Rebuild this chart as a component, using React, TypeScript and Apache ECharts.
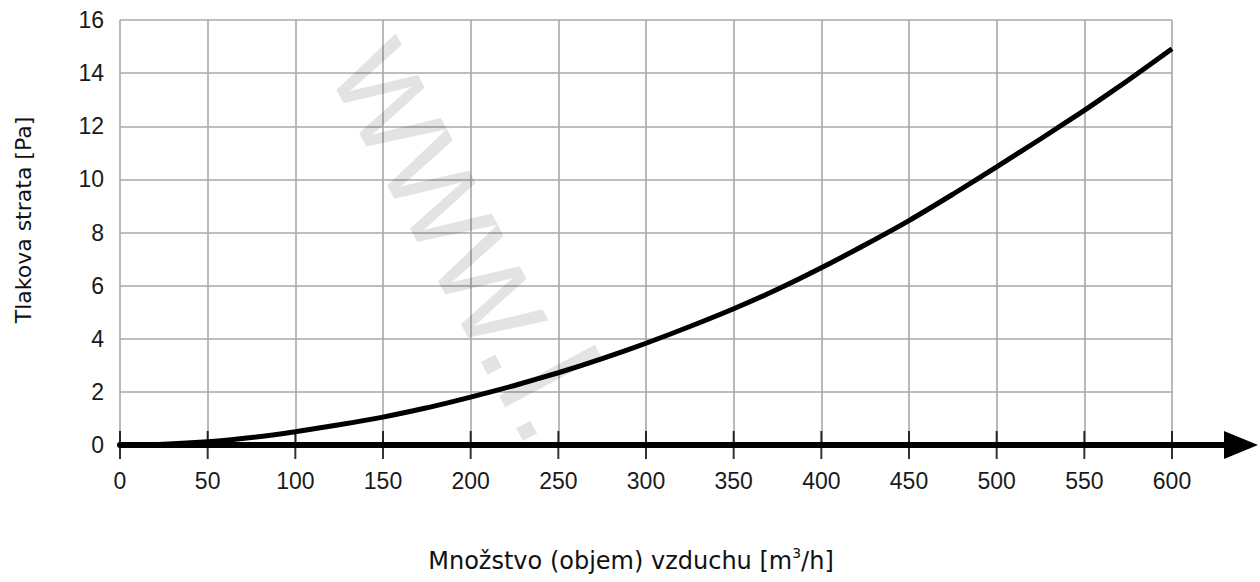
import React, { useEffect, useRef } from "react";
import * as echarts from "echarts";

const flowValues = [0, 25, 50, 75, 100, 125, 150, 175, 200, 225, 250, 275, 300, 325, 350, 375, 400, 425, 450, 475, 500, 525, 550, 575, 600];
const pressureLoss = [0, 0.03, 0.12, 0.28, 0.5, 0.76, 1.05, 1.4, 1.8, 2.24, 2.72, 3.25, 3.83, 4.46, 5.13, 5.86, 6.67, 7.54, 8.45, 9.44, 10.47, 11.52, 12.6, 13.73, 14.92];
const xTicks = [0, 50, 100, 150, 200, 250, 300, 350, 400, 450, 500, 550, 600];
const yTitle = "Tlakova strata [Pa]";
const xTitle = "{n|Množstvo (objem) vzduchu [m}{sup|3}{n|/h]}";
const watermark = "www.l.";

export default function App() {
  const ref = useRef<HTMLDivElement>(null);
  useEffect(() => {
    document.body.style.margin = "0";
    const chart = echarts.init(ref.current!, null, { renderer: "svg" });
    const gridColor = "#a8a8a8";
    const labelFont = "Liberation Sans";
    chart.setOption({
      animation: false,
      backgroundColor: "#ffffff",
      grid: [
        { left: 120, right: 88, top: 20, bottom: 137 },
        { left: 120, right: 19, top: 20, bottom: 137 },
      ],
      xAxis: [
        {
          type: "value",
          gridIndex: 0,
          min: 0,
          max: 600,
          interval: 50,
          axisLine: { show: false },
          axisTick: { show: false },
          splitLine: { show: true, lineStyle: { color: gridColor, width: 1.6 } },
          axisLabel: { fontFamily: labelFont, fontSize: 23, color: "#1a1a1a", margin: 24 },
        },
        {
          type: "value",
          gridIndex: 1,
          min: 0,
          max: 1,
          position: "bottom",
          axisLine: {
            show: true,
            onZero: false,
            symbol: ["none", "triangle"],
            symbolSize: [28, 34],
            lineStyle: { color: "#000", width: 6 },
          },
          axisTick: { show: false },
          axisLabel: { show: false },
          splitLine: { show: false },
        },
      ],
      yAxis: [
        {
          type: "value",
          gridIndex: 0,
          min: 0,
          max: 16,
          interval: 2,
          axisLine: { show: false },
          axisTick: { show: false },
          splitLine: { show: true, lineStyle: { color: gridColor, width: 1.6 } },
          axisLabel: { fontFamily: labelFont, fontSize: 23, color: "#1a1a1a", margin: 16 },
        },
        { type: "value", gridIndex: 1, show: false, min: 0, max: 1 },
      ],
      graphic: [
        {
          type: "text",
          x: 23,
          y: 220,
          rotation: Math.PI / 2,
          style: {
            text: yTitle,
            fontFamily: "DejaVu Sans",
            fontSize: 22,
            fill: "#111",
            align: "center",
            verticalAlign: "middle",
          },
        },
        {
          type: "text",
          x: 631,
          y: 561,
          style: {
            text: xTitle,
            fontFamily: "DejaVu Sans",
            fontSize: 24,
            fill: "#111",
            align: "center",
            verticalAlign: "middle",
            rich: {
              n: { fontFamily: "DejaVu Sans", fontSize: 24, lineHeight: 30, fill: "#111" },
              sup: { fontFamily: "DejaVu Sans", fontSize: 14, lineHeight: 14, verticalAlign: "top", fill: "#111" },
            },
          },
        },
        {
          type: "text",
          x: 372,
          y: 46,
          z: 100,
          rotation: (-62 * Math.PI) / 180,
          style: {
            text: watermark,
            fontFamily: "Liberation Sans",
            fontSize: 150,
            fill: "rgba(0,0,0,0.11)",
            align: "left",
            verticalAlign: "middle",
          },
        },
      ],
      series: [
        {
          type: "line",
          xAxisIndex: 0,
          yAxisIndex: 0,
          data: flowValues.map((v, i) => [v, pressureLoss[i]]),
          smooth: 0.2,
          showSymbol: false,
          lineStyle: { color: "#000", width: 5 },
          z: 5,
        },
        {
          type: "scatter",
          xAxisIndex: 0,
          yAxisIndex: 0,
          data: xTicks.map((v) => [v, 0]),
          symbol: "rect",
          symbolSize: [2, 28],
          itemStyle: { color: "#000" },
          clip: false,
          silent: true,
          z: 6,
        },
      ],
    });
    return () => chart.dispose();
  }, []);
  return <div ref={ref} style={{ width: 1260, height: 582 }} />;
}
